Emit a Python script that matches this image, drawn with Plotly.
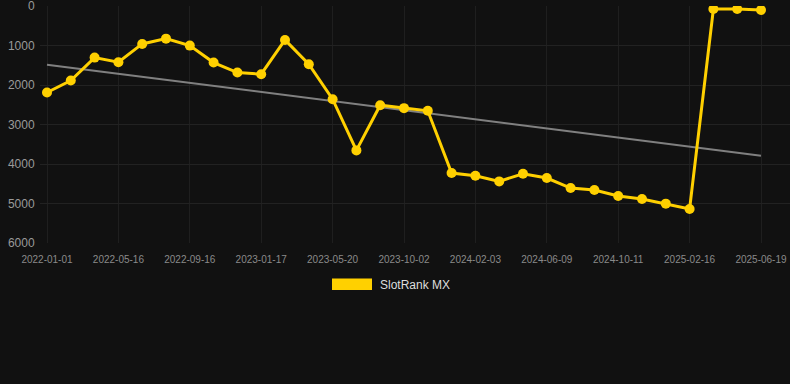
import plotly.graph_objects as go

dates = [
    "2022-01-01", "2022-02-15", "2022-04-01", "2022-05-16", "2022-06-26", "2022-08-06",
    "2022-09-16", "2022-10-27", "2022-12-07", "2023-01-17", "2023-02-27", "2023-04-09",
    "2023-05-20", "2023-07-04", "2023-08-18", "2023-10-02", "2023-11-12", "2023-12-23",
    "2024-02-03", "2024-03-15", "2024-04-27", "2024-06-09", "2024-07-20", "2024-08-31",
    "2024-10-11", "2024-11-22", "2025-01-04", "2025-02-16", "2025-03-29", "2025-05-09",
    "2025-06-19",
]
ranks = [
    2190, 1887, 1306, 1424, 960, 826, 1003, 1432, 1685, 1727,
    859, 1474, 2359, 3656, 2511, 2586, 2654, 4229, 4297, 4440,
    4246, 4356, 4608, 4659, 4811, 4886, 5004, 5139, 76, 76,
    101,
]
trend_values = [1486, 3790]
tick_labels = dates[::3]
y_ticks = [0, 1000, 2000, 3000, 4000, 5000, 6000]
series_name = "SlotRank MX"

W, H = 790, 384
ML, MR, MT, MB = 40, 0, 6, 141
pw = W - ML - MR
ph = H - MT - MB

def px(x):
    return (x - ML) / pw

def py(y):
    return (H - MB - y) / ph

fig = go.Figure()
fig.add_trace(go.Scatter(
    x=[dates[0], dates[-1]], y=trend_values, mode="lines",
    line=dict(color="#808080", width=2), showlegend=False, hoverinfo="skip",
))
fig.add_trace(go.Scatter(
    x=dates, y=ranks, mode="lines+markers", name=series_name,
    line=dict(color="#FFD000", width=3),
    marker=dict(color="#FFD000", size=10),
    showlegend=False,
))

step = (761 - 47) / (len(dates) - 1)
x0 = (ML - 47) / step
x1 = (W - MR - 47) / step

fig.update_layout(
    width=W, height=H,
    margin=dict(l=ML, r=MR, t=MT, b=MB),
    paper_bgcolor="#111111", plot_bgcolor="#111111",
    font=dict(family="Liberation Sans, Arial, sans-serif"),
    xaxis=dict(
        type="category", categoryorder="array", categoryarray=dates,
        range=[x0, x1],
        tickmode="array", tickvals=tick_labels, ticktext=tick_labels,
        showgrid=True, gridcolor="#1f1f1f", gridwidth=1,
        zeroline=False, showline=False,
        tickfont=dict(size=10, color="#8a8a8a"),
        ticks="outside", ticklen=7, tickcolor="rgba(0,0,0,0)",
        ticklabeloverflow="allow",
    ),
    yaxis=dict(
        range=[6000, 0], tickmode="array", tickvals=y_ticks,
        showgrid=True, gridcolor="#222222", gridwidth=1,
        zeroline=False, showline=False,
        tickfont=dict(size=12, color="#9a9a9a"),
        ticks="outside", ticklen=2, tickcolor="rgba(0,0,0,0)",
        ticklabeloverflow="allow",
    ),
    shapes=[dict(
        type="rect", xref="paper", yref="paper",
        x0=px(332), x1=px(372), y0=py(290), y1=py(278.5),
        fillcolor="#FFD000", line=dict(width=0),
    )],
    annotations=[dict(
        text=series_name, xref="paper", yref="paper",
        x=px(378), y=py(284.5), xanchor="left", yanchor="middle",
        showarrow=False, font=dict(size=12, color="#dddddd"),
    )],
)

fig.write_html(
    "out.html",
    config={"displayModeBar": False},
    post_script="document.body.style.margin='0';document.body.style.background='#111111';",
)
